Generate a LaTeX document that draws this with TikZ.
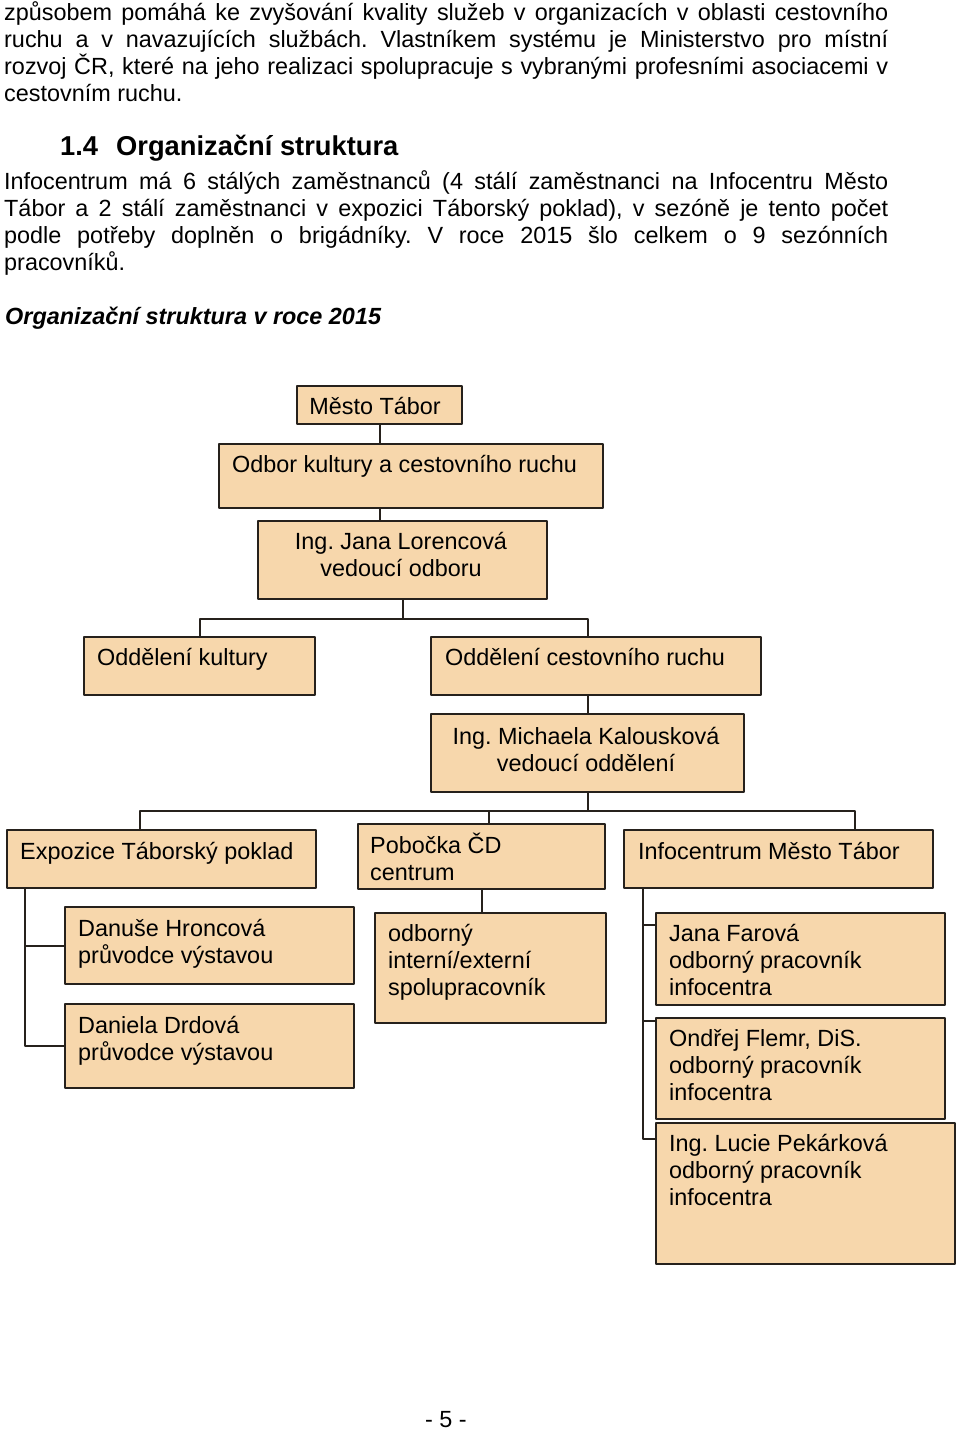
\documentclass[tikz,border=0pt]{standalone}
\usepackage{fontspec}
\setmainfont{Liberation Sans}
\frenchspacing
\definecolor{peach}{RGB}{247,215,172}
\definecolor{ink}{RGB}{38,33,28}
\begin{document}
\begin{tikzpicture}[x=1pt,y=-1pt,line join=round,
  box/.style={draw=ink,fill=peach,line width=2pt,inner sep=0pt,anchor=north west},
  txt/.style={inner sep=0pt,align=left,anchor=base west,font=\fontsize{23.4}{27}\selectfont},
  link/.style={draw=ink,line width=2pt}]
\useasboundingbox (0,0) rectangle (960,1431);
\fill[white] (0,0) rectangle (960,1431);
% text above the chart (base = last line)
\node[txt] (par1) at (4,102) {\makebox[884pt][s]{způsobem pomáhá ke zvyšování kvality služeb v organizacích v oblasti cestovního}\\
\makebox[884pt][s]{ruchu a v navazujících službách. Vlastníkem systému je Ministerstvo pro místní}\\
\makebox[884pt][s]{rozvoj ČR, které na jeho realizaci spolupracuje s vybranými profesními asociacemi v}\\
cestovním ruchu.};
\node[txt,font=\fontsize{27.3}{32}\selectfont\bfseries] (headN) at (60,156) {1.4};
\node[txt,font=\fontsize{27.3}{32}\selectfont\bfseries] (head) at (116,156) {Organizační struktura};
\node[txt] (par2) at (4,270) {\makebox[884pt][s]{Infocentrum má 6 stálých zaměstnanců (4 stálí zaměstnanci na Infocentru Město}\\
\makebox[884pt][s]{Tábor a 2 stálí zaměstnanci v expozici Táborský poklad), v sezóně je tento počet}\\
\makebox[884pt][s]{podle potřeby doplněn o brigádníky. V roce 2015 šlo celkem o 9 sezónních}\\
pracovníků.};
\node[txt,font=\fontsize{23.4}{27}\selectfont\bfseries\itshape] (cap) at (5,324) {Organizační struktura v roce 2015};
% boxes
\node[box,minimum width=165,minimum height=38] (mesto) at (296,385) {};
\node[box,minimum width=384,minimum height=64] (odbor) at (218,443) {};
\node[box,minimum width=289,minimum height=78] (lor) at (257,520) {};
\node[box,minimum width=231,minimum height=58] (odk) at (83,636) {};
\node[box,minimum width=330,minimum height=58] (odcr) at (430,636) {};
\node[box,minimum width=313,minimum height=78] (kal) at (430,713) {};
\node[box,minimum width=309,minimum height=58] (expo) at (6,829) {};
\node[box,minimum width=247,minimum height=65] (pob) at (357,823) {};
\node[box,minimum width=309,minimum height=58] (info) at (623,829) {};
\node[box,minimum width=289,minimum height=77] (hron) at (64,906) {};
\node[box,minimum width=289,minimum height=84] (drd) at (64,1003) {};
\node[box,minimum width=231,minimum height=110] (odb) at (374,912) {};
\node[box,minimum width=289,minimum height=92] (far) at (655,912) {};
\node[box,minimum width=289,minimum height=101] (flem) at (655,1017) {};
\node[box,minimum width=299,minimum height=141] (pek) at (655,1122) {};
% texts in the boxes (base = last line)
\node[txt,anchor=base] (mestoT) at (375,414) {Město Tábor};
\node[txt] (odborT) at (232,472) {Odbor kultury a cestovního ruchu};
\node[txt,align=center,anchor=base] (lorT) at (401,576) {Ing. Jana Lorencová\\vedoucí odboru};
\node[txt] (odkT) at (97,665) {Oddělení kultury};
\node[txt] (odcrT) at (445,665) {Oddělení cestovního ruchu};
\node[txt,align=center,anchor=base] (kalT) at (586,771) {Ing. Michaela Kalousková\\vedoucí oddělení};
\node[txt] (expoT) at (20,859) {Expozice Táborský poklad};
\node[txt] (pobT) at (370,880) {Pobočka ČD\\centrum};
\node[txt] (infoT) at (638,859) {Infocentrum Město Tábor};
\node[txt] (hronT) at (78,963) {Danuše Hroncová\\průvodce výstavou};
\node[txt] (drdT) at (78,1060) {Daniela Drdová\\průvodce výstavou};
\node[txt] (odbT) at (388,995) {odborný\\interní/externí\\spolupracovník};
\node[txt] (farT) at (669,995) {Jana Farová\\odborný pracovník\\infocentra};
\node[txt] (flemT) at (669,1100) {Ondřej Flemr, DiS.\\odborný pracovník\\infocentra};
\node[txt] (pekT) at (669,1205) {Ing. Lucie Pekárková\\odborný pracovník\\infocentra};
% connectors
\draw[link] (mesto.south) -- (mesto.south |- odbor.north);
\draw[link] (odbor.south -| mesto.south) -- (lor.north -| mesto.south);
\draw[link] (lor.south) -- ++(0,19) coordinate (j1);
\draw[link] (odk.north) |- (j1) -| (kal.north |- odcr.north);
\draw[link] (odcr.south -| kal.north) -- (kal.north);
\draw[link] (kal.south) -- ++(0,18) coordinate (j2);
\coordinate (e0) at ([xshift=134pt]expo.north west);
\coordinate (i0) at ([xshift=232pt]info.north west);
\coordinate (p0) at ([xshift=132pt]pob.north west);
\draw[link] (e0) |- (j2) -| (i0);
\draw[link] (p0) -- (p0 |- j2);
\draw[link] (pob.south) -- (pob.south |- odb.north);
\coordinate (e1) at ([xshift=19pt]expo.south west);
\draw[link] (e1) |- (hron.west) (e1) |- (drd.west);
\coordinate (i1) at ([xshift=20pt]info.south west);
\draw[link] (i1) |- ([yshift=-13pt]far.north west) (i1) |- ([yshift=-4pt]flem.north west)
  (i1) |- ([yshift=-17pt]pek.north west);
\node[txt,anchor=base] (pnum) at (446,1427) {- 5 -};
\end{tikzpicture}
\end{document}
